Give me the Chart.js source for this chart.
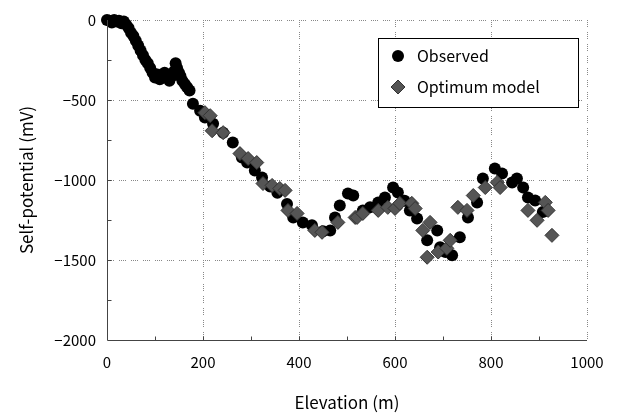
<!DOCTYPE html>
<html>
<head>
<meta charset="utf-8">
<script src="https://cdn.jsdelivr.net/npm/chart.js@4.4.1/dist/chart.umd.min.js"></script>
<style>
  html, body { margin: 0; padding: 0; background: #fff; }
  #wrap { width: 621px; height: 417px; }
</style>
</head>
<body>
<div id="wrap"><canvas id="sp"></canvas></div>
<script>
// observed self-potential, [elevation m, mV]
const observed = [
  [0,0],[5,-5],[10,-15],[15,0],[20,-10],[25,-5],[30,-20],[35,-10],[40,-30],[45,-50],
  [50,-80],[55,-100],[60,-130],[65,-160],[70,-190],[75,-220],[80,-250],[85,-270],[90,-300],
  [95,-330],[100,-360],[105,-340],[110,-370],[115,-350],[120,-330],[125,-360],[130,-380],
  [135,-350],[140,-320],[143,-270],[146,-300],[150,-330],[153,-350],[157,-380],[162,-400],
  [167,-420],[172,-440],[179,-523],[194,-567],[204,-610],[221,-648],[242,-704],[262,-766],
  [281,-860],[292,-891],[308,-941],[323,-984],[340,-1040],[355,-1080],[375,-1150],[388,-1234],
  [408,-1265],[427,-1283],[450,-1320],[465,-1315],[475,-1234],[485,-1159],[502,-1084],
  [513,-1097],[533,-1190],[548,-1171],[565,-1140],[579,-1109],[596,-1047],[606,-1078],
  [620,-1130],[631,-1190],[646,-1240],[667,-1377],[688,-1315],[694,-1421],[705,-1450],
  [719,-1470],[735,-1358],[752,-1234],[771,-1140],[783,-990],[808,-928],[823,-960],
  [844,-1015],[854,-990],[867,-1047],[877,-1109],[892,-1128],[908,-1200]
];

// optimum model
const model = [
  [204,-579],[215,-598],[219,-692],[242,-704],[277,-835],[294,-866],[312,-891],[325,-1022],
  [344,-1034],[360,-1053],[371,-1065],[377,-1190],[396,-1209],[433,-1315],[448,-1327],
  [481,-1265],[517,-1234],[521,-1234],[533,-1209],[565,-1190],[585,-1171],[600,-1178],
  [610,-1146],[635,-1146],[642,-1178],[658,-1315],[667,-1483],[673,-1265],[690,-1450],
  [708,-1427],[715,-1377],[731,-1171],[750,-1190],[763,-1097],[788,-1047],[813,-1015],
  [819,-1047],[877,-1190],[896,-1252],[913,-1140],[919,-1190],[927,-1346]
];

const seriesNames = ["Observed", "Optimum model"];
const xTicks = [0, 200, 400, 600, 800, 1000];
const yTicks = [0, -500, -1000, -1500, -2000];

const FONT = "'Noto Sans CJK JP', 'Noto Sans', sans-serif";
const GRID_DASH = [1, 1, 1, 1, 1, 1, 1, 5];

function toXY(arr) {
  return arr.map(function (p) { return { x: p[0], y: p[1] }; });
}

// solid axis lines plus small inside tick marks, like the original plot
const axesAndTicks = {
  id: 'axesAndTicks',
  afterDatasetsDraw: function (chart) {
    const ctx = chart.ctx;
    const xs = chart.scales.x, ys = chart.scales.y;
    const a = chart.chartArea;
    ctx.save();
    ctx.setLineDash([]);
    ctx.strokeStyle = '#444';
    ctx.lineWidth = 1;
    ctx.beginPath();
    const l = Math.round(a.left) + 0.5, b = Math.round(a.bottom) + 0.5;
    ctx.moveTo(l, a.top);
    ctx.lineTo(l, b);
    ctx.lineTo(a.right, b);
    for (let v = 100; v < 1000; v += 100) {
      const px = Math.round(xs.getPixelForValue(v)) + 0.5;
      ctx.moveTo(px, b);
      ctx.lineTo(px, b - 4);
    }
    for (let v = -250; v > -2000; v -= 250) {
      const py = Math.round(ys.getPixelForValue(v)) + 0.5;
      ctx.moveTo(l, py);
      ctx.lineTo(l + 4, py);
    }
    ctx.stroke();
    ctx.restore();
  }
};

// boxed legend inside the plot
const boxLegend = {
  id: 'boxLegend',
  afterDraw: function (chart) {
    const ctx = chart.ctx;
    const x0 = 378, y0 = 38, w = 200, h = 69;
    ctx.save();
    ctx.setLineDash([]);
    ctx.fillStyle = '#fff';
    ctx.fillRect(x0, y0, w, h);
    ctx.strokeStyle = '#000';
    ctx.lineWidth = 1;
    ctx.strokeRect(x0 + 0.5, y0 + 0.5, w, h);
    const rows = [56, 87];
    ctx.fillStyle = '#000';
    ctx.beginPath();
    ctx.arc(398, rows[0], 6, 0, Math.PI * 2);
    ctx.fill();
    ctx.fillStyle = '#555';
    ctx.strokeStyle = '#333';
    ctx.beginPath();
    ctx.moveTo(398, rows[1] - 7);
    ctx.lineTo(405, rows[1]);
    ctx.lineTo(398, rows[1] + 7);
    ctx.lineTo(391, rows[1]);
    ctx.closePath();
    ctx.fill();
    ctx.stroke();
    ctx.fillStyle = '#000';
    ctx.font = '16px ' + FONT;
    ctx.textBaseline = 'middle';
    ctx.fillText(seriesNames[0], 417, rows[0]);
    ctx.fillText(seriesNames[1], 417, rows[1]);
    ctx.restore();
  }
};

new Chart(document.getElementById('sp'), {
  type: 'scatter',
  data: {
    datasets: [
      {
        label: seriesNames[0],
        data: toXY(observed),
        pointStyle: 'circle',
        pointRadius: 6,
        backgroundColor: '#000',
        borderColor: '#000',
        borderWidth: 0,
        order: 2,
        clip: false
      },
      {
        label: seriesNames[1],
        data: toXY(model),
        pointStyle: 'rectRot',
        pointRadius: 7,
        backgroundColor: '#555',
        borderColor: '#333',
        borderWidth: 1,
        order: 1,
        clip: false
      }
    ]
  },
  options: {
    responsive: true,
    maintainAspectRatio: false,
    animation: false,
    layout: { padding: { left: 0, right: 34, top: 19, bottom: 0 } },
    plugins: {
      legend: { display: false },
      tooltip: { enabled: false }
    },
    scales: {
      x: {
        type: 'linear',
        min: 0,
        max: 1000,
        afterFit: function (s) { s.height = 77; },
        afterBuildTicks: function (s) { s.ticks = xTicks.map(function (v) { return { value: v }; }); },
        border: { display: false, dash: GRID_DASH },
        grid: {
          color: function (c) { return c.tick && c.tick.value === 0 ? 'rgba(0,0,0,0)' : '#888'; },
          lineWidth: 1,
          drawTicks: false
        },
        ticks: {
          padding: 13,
          color: '#000',
          font: { family: FONT, size: 15 },
          maxRotation: 0,
          callback: function (v) { return String(v); }
        },
        title: {
          display: true,
          text: 'Elevation (m)',
          color: '#000',
          font: { family: FONT, size: 17 },
          padding: { top: 8, bottom: 4 }
        }
      },
      y: {
        type: 'linear',
        min: -2000,
        max: 0,
        afterFit: function (s) { s.width = 107; },
        afterBuildTicks: function (s) { s.ticks = yTicks.map(function (v) { return { value: v }; }); },
        border: { display: false, dash: GRID_DASH },
        grid: {
          color: function (c) { return c.tick && c.tick.value === -2000 ? 'rgba(0,0,0,0)' : '#888'; },
          lineWidth: 1,
          drawTicks: false
        },
        ticks: {
          padding: 11,
          color: '#000',
          font: { family: FONT, size: 15 },
          callback: function (v) { return v < 0 ? '\u2212' + Math.abs(v) : String(v); }
        },
        title: {
          display: true,
          text: 'Self-potential (mV)',
          color: '#000',
          font: { family: FONT, size: 17 },
          padding: { top: 16, bottom: 0 }
        }
      }
    }
  },
  plugins: [axesAndTicks, boxLegend]
});
</script>
</body>
</html>
